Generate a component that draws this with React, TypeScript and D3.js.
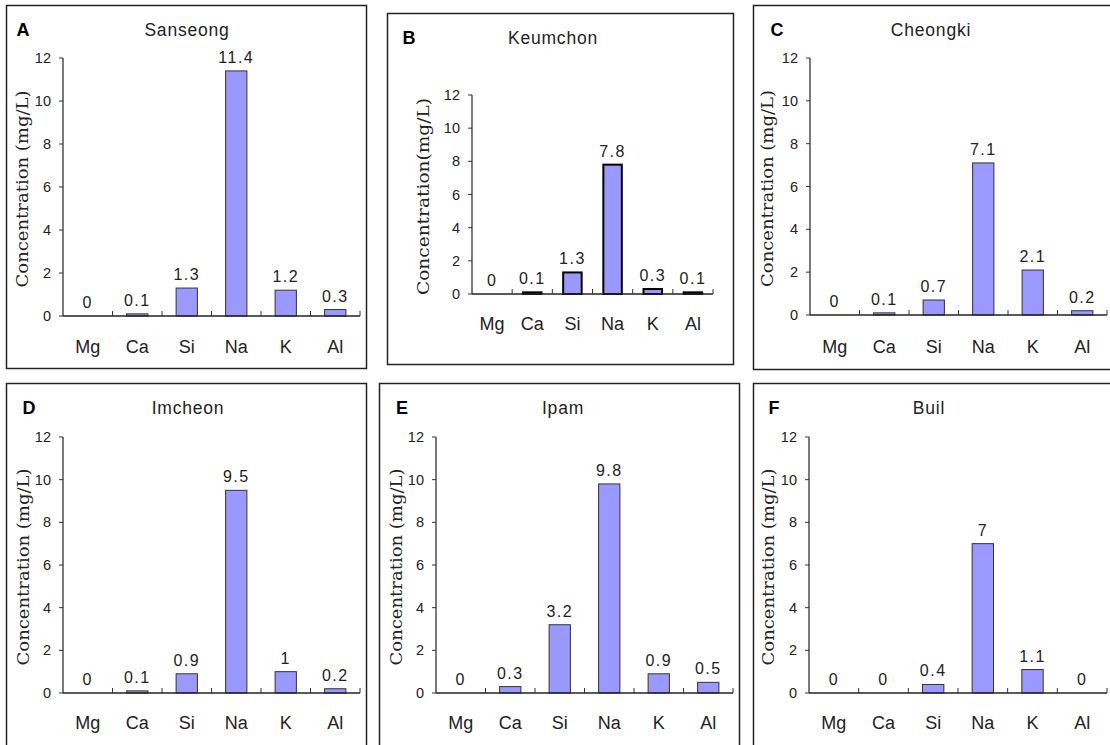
import React from "react";
import * as d3 from "d3";

const elements = ["Mg", "Ca", "Si", "Na", "K", "Al"];
const yTicks = [0, 2, 4, 6, 8, 10, 12];
const sites = ["Sanseong", "Keumchon", "Cheongki", "Imcheon", "Ipam", "Buil"];
const letters = ["A", "B", "C", "D", "E", "F"];
const sanseong = [0, 0.1, 1.3, 11.4, 1.2, 0.3];
const keumchon = [0, 0.1, 1.3, 7.8, 0.3, 0.1];
const cheongki = [0, 0.1, 0.7, 7.1, 2.1, 0.2];
const imcheon = [0, 0.1, 0.9, 9.5, 1, 0.2];
const ipam = [0, 0.3, 3.2, 9.8, 0.9, 0.5];
const buil = [0, 0, 0.4, 7, 1.1, 0];
const seriesList = [sanseong, keumchon, cheongki, imcheon, ipam, buil];
const yLabels = [
  "Concentration (mg/L)",
  "Concentration(mg/L)",
  "Concentration (mg/L)",
  "Concentration (mg/L)",
  "Concentration (mg/L)",
  "Concentration (mg/L)",
];

type Layout = {
  box: [number, number, number, number];
  x0: number; x1: number; top: number; bottom: number;
  title: [number, number]; letter: [number, number];
  ylabX: number; catY: number; barFrac: number; barStroke: string; barSW: number;
};

const layouts: Layout[] = [
  { box: [6.5, 5.5, 360, 363], x0: 63, x1: 360, top: 58, bottom: 316, title: [187, 30], letter: [23, 30], ylabX: 22, catY: 347, barFrac: 0.43, barStroke: "#333", barSW: 1 },
  { box: [387.5, 13.5, 346, 351], x0: 472, x1: 713, top: 95, bottom: 294, title: [553, 38], letter: [409, 38], ylabX: 423, catY: 324, barFrac: 0.46, barStroke: "#000", barSW: 2 },
  { box: [753.5, 5.5, 370, 364], x0: 810, x1: 1107, top: 58, bottom: 315, title: [931, 30], letter: [777, 30], ylabX: 767, catY: 347, barFrac: 0.43, barStroke: "#333", barSW: 1 },
  { box: [6.5, 383.5, 360, 380], x0: 63, x1: 360, top: 437, bottom: 693, title: [188, 408], letter: [29, 408], ylabX: 23, catY: 723, barFrac: 0.43, barStroke: "#333", barSW: 1 },
  { box: [379.5, 383.5, 360, 380], x0: 436, x1: 733, top: 437, bottom: 693, title: [563, 408], letter: [402, 408], ylabX: 396, catY: 723, barFrac: 0.43, barStroke: "#333", barSW: 1 },
  { box: [753.5, 383.5, 370, 380], x0: 809, x1: 1107, top: 437, bottom: 693, title: [929, 408], letter: [774, 408], ylabX: 768, catY: 723, barFrac: 0.43, barStroke: "#333", barSW: 1 },
];

const sans = "'Liberation Sans', Arial, sans-serif";
const serif = "'DejaVu Serif', 'Liberation Serif', serif";

function Panel({ i }: { i: number }) {
  const L = layouts[i];
  const data = seriesList[i];
  const x = d3.scaleBand<string>().domain(elements).range([L.x0, L.x1]).padding(0);
  const y = d3.scaleLinear().domain([0, 12]).range([L.bottom, L.top]);
  const bw = x.bandwidth();
  const barW = bw * L.barFrac;
  const [bx, by, bwid, bh] = L.box;
  const tickXs = elements.map((e) => (x(e) as number) + bw);
  return (
    <g>
      <rect x={bx} y={by} width={bwid} height={bh} fill="#fff" stroke="#222" strokeWidth={1.5} />
      <text x={L.letter[0]} y={L.letter[1]} fontFamily={sans} fontWeight="bold" fontSize={18} textAnchor="middle" dominantBaseline="central" fill="#000">{letters[i]}</text>
      <text x={L.title[0]} y={L.title[1]} fontFamily={sans} fontSize={17.5} letterSpacing={0.8} textAnchor="middle" dominantBaseline="central" fill="#222">{sites[i]}</text>
      <text transform={`translate(${L.ylabX},${(L.top + L.bottom) / 2 + 2}) rotate(-90)`} fontFamily={serif} fontSize={17} textAnchor="middle" dominantBaseline="central" fill="#222" textLength={197} lengthAdjust="spacingAndGlyphs">{yLabels[i]}</text>
      {yTicks.map((t) => (
        <g key={t}>
          <line x1={L.x0 - 4} x2={L.x0} y1={y(t)} y2={y(t)} stroke="#333" strokeWidth={1} />
          <text x={L.x0 - 12} y={y(t)} fontFamily={sans} fontSize={14.5} textAnchor="end" dominantBaseline="central" fill="#222">{t}</text>
        </g>
      ))}
      {data.map((v, j) => {
        const cx = (x(elements[j]) as number) + bw / 2;
        return (
          <g key={j}>
            {v > 0 && (
              <rect x={cx - barW / 2} y={y(v)} width={barW} height={y(0) - y(v)} fill="#9999ff" stroke={L.barStroke} strokeWidth={L.barSW} />
            )}
            <text x={cx} y={y(v) - 8} fontFamily={sans} fontSize={16} letterSpacing={1.5} textAnchor="middle" fill="#222">{String(v)}</text>
            <text x={cx} y={L.catY} fontFamily={sans} fontSize={18} textAnchor="middle" dominantBaseline="central" fill="#222">{elements[j]}</text>
          </g>
        );
      })}
      <line x1={L.x0} x2={L.x0} y1={L.top} y2={L.bottom} stroke="#222" strokeWidth={1.2} />
      <line x1={L.x0} x2={L.x1} y1={L.bottom} y2={L.bottom} stroke="#222" strokeWidth={1.5} />
      {tickXs.map((tx, k) => (
        <line key={k} x1={tx} x2={tx} y1={L.bottom} y2={L.bottom - 5} stroke="#333" strokeWidth={1} />
      ))}
    </g>
  );
}

export default function App() {
  return (
    <svg width={1110} height={745} style={{ position: "absolute", left: 0, top: 0, background: "#fff" }}>
      <rect x={0} y={0} width={1110} height={745} fill="#fff" />
      {layouts.map((_, i) => (
        <Panel key={i} i={i} />
      ))}
    </svg>
  );
}
